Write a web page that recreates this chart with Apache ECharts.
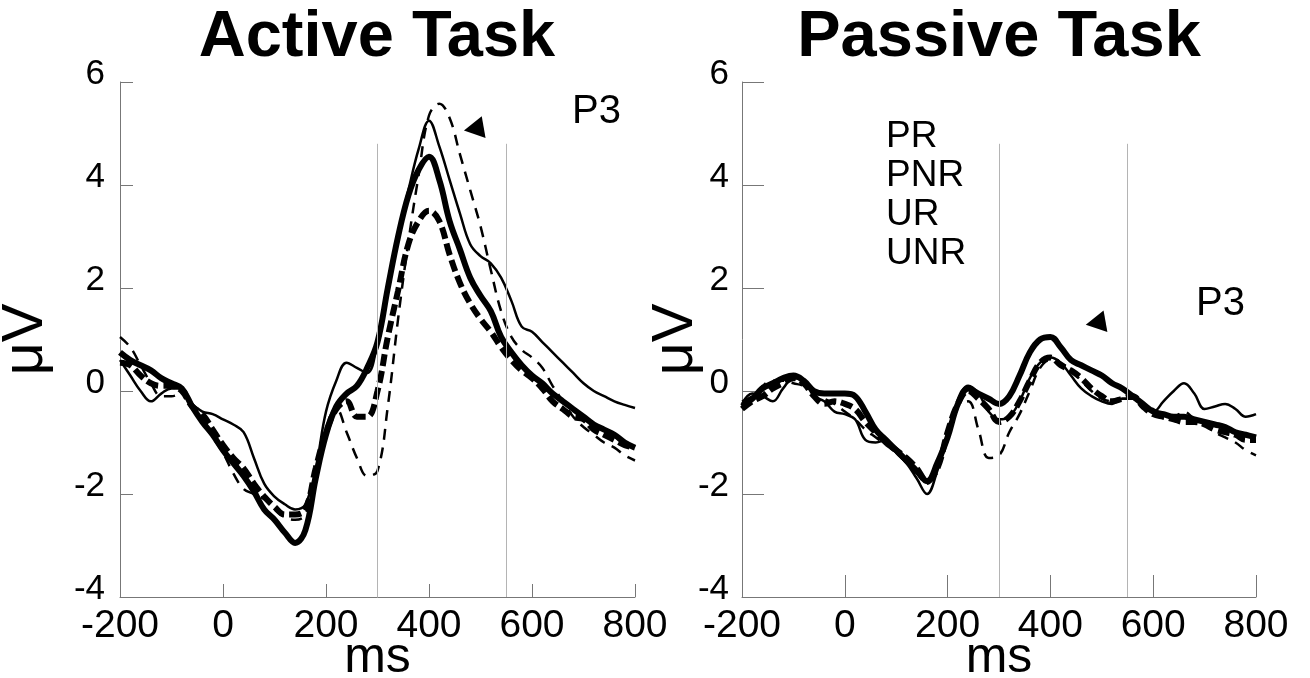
<!DOCTYPE html>
<html>
<head>
<meta charset="utf-8">
<script src="https://cdn.jsdelivr.net/npm/echarts@6/dist/echarts.min.js"></script>
<style>
    html, body { margin: 0; padding: 0; background: #fff; }
    #erp { width: 1310px; height: 678px; }
</style>
</head>
<body>
<div id="erp"></div>
<script>
// sample times (ms)
var times = [-200,-180,-160,-140,-120,-100,-80,-60,-40,-20,0,20,40,60,80,100,120,140,160,180,
    200,220,240,260,280,300,320,340,360,380,400,420,440,460,480,500,520,540,560,580,
    600,620,640,660,680,700,720,740,760,780,800];

// Active task (uV)
var activePR  = [0.75,0.6,0.5,0.4,0.25,0.15,0.05,-0.3,-0.6,-0.85,-1.15,-1.4,-1.65,-1.95,-2.3,-2.5,-2.75,-2.95,-2.7,-1.7,
    -0.85,-0.3,-0.05,0.1,0.45,0.95,2.0,3.0,3.8,4.3,4.55,4.1,3.3,2.75,2.2,1.85,1.55,1.05,0.75,0.5,
    0.3,0.15,-0.05,-0.2,-0.35,-0.5,-0.65,-0.75,-0.85,-1.0,-1.1];
var activePNR = [0.6,0.3,0.0,-0.2,-0.05,0.05,0.05,-0.25,-0.4,-0.45,-0.55,-0.65,-0.8,-1.3,-1.8,-2.05,-2.2,-2.3,-2.2,-1.5,
    -0.4,0.2,0.55,0.45,0.35,0.95,2.0,3.05,3.9,4.7,5.25,4.75,4.1,3.45,2.85,2.62,2.48,2.2,1.75,1.25,
    1.15,0.95,0.75,0.55,0.35,0.15,0.0,-0.1,-0.2,-0.27,-0.33];
var activeUR  = [0.55,0.5,0.3,0.15,0.1,0.1,0.0,-0.3,-0.45,-0.75,-1.05,-1.3,-1.5,-1.8,-2.05,-2.25,-2.4,-2.4,-2.3,-1.5,
    -0.8,-0.35,-0.2,-0.5,-0.5,0.0,1.05,1.95,2.85,3.3,3.5,3.3,2.65,2.1,1.7,1.4,1.15,0.85,0.6,0.4,
    0.25,0.05,-0.2,-0.35,-0.5,-0.55,-0.75,-0.85,-0.95,-1.05,-1.1];
var activeUNR = [1.05,0.85,0.5,0.15,-0.1,-0.1,-0.05,-0.35,-0.6,-0.9,-1.2,-1.6,-1.9,-2.0,-2.1,-2.3,-2.45,-2.5,-2.4,-1.6,
    -0.7,-0.35,-0.8,-1.3,-1.65,-1.55,-0.3,1.4,2.9,4.2,5.35,5.58,5.3,4.6,3.9,3.2,2.35,1.55,1.05,0.8,
    0.65,0.45,0.1,-0.2,-0.5,-0.7,-0.85,-1.0,-1.1,-1.25,-1.35];

// Passive task (uV)
var passivePR  = [-0.3,-0.15,0.05,0.15,0.25,0.3,0.2,0.0,-0.05,-0.05,-0.05,-0.1,-0.4,-0.75,-0.95,-1.15,-1.35,-1.55,-1.75,-1.4,
    -0.9,-0.25,0.05,-0.05,-0.15,-0.25,-0.1,0.3,0.75,1.0,1.05,0.85,0.6,0.5,0.4,0.3,0.15,0.05,-0.1,-0.25,
    -0.4,-0.45,-0.5,-0.5,-0.55,-0.6,-0.65,-0.7,-0.8,-0.85,-0.9];
var passivePNR = [-0.25,-0.05,-0.1,-0.2,0.05,0.25,0.2,-0.1,-0.2,-0.4,-0.45,-0.55,-0.95,-1.0,-0.95,-1.2,-1.4,-1.7,-2.0,-1.55,
    -0.9,-0.2,0.1,-0.05,-0.4,-0.55,-0.5,-0.2,0.25,0.55,0.65,0.55,0.3,0.05,-0.1,-0.2,-0.25,-0.15,-0.15,-0.3,
    -0.4,-0.2,0.0,0.15,-0.05,-0.35,-0.3,-0.25,-0.35,-0.5,-0.45];
var passiveUR  = [-0.35,-0.2,-0.1,0.05,0.15,0.25,0.15,-0.1,-0.25,-0.2,-0.25,-0.35,-0.6,-0.8,-1.0,-1.15,-1.3,-1.5,-1.75,-1.5,
    -0.8,-0.25,0.0,-0.15,-0.35,-0.6,-0.5,-0.2,0.2,0.55,0.65,0.5,0.4,0.25,0.05,-0.1,-0.2,-0.15,-0.1,-0.3,
    -0.45,-0.5,-0.55,-0.6,-0.6,-0.65,-0.75,-0.8,-0.85,-0.95,-0.95];
var passiveUNR = [-0.2,-0.1,0.1,0.2,0.2,0.15,0.1,0.0,-0.15,-0.25,-0.4,-0.55,-0.75,-0.9,-1.05,-1.2,-1.4,-1.6,-1.8,-1.45,
    -0.75,-0.3,-0.2,-0.75,-1.3,-1.25,-0.8,-0.45,0.0,0.45,0.6,0.55,0.4,0.2,0.0,-0.15,-0.2,-0.15,-0.15,-0.25,
    -0.35,-0.45,-0.5,-0.4,-0.55,-0.65,-0.8,-0.9,-1.0,-1.15,-1.25];

var conditions = ['PR', 'PNR', 'UR', 'UNR'];
var xTicks = [-200, 800, 200];   // min, max, step
var yTicks = [-4, 6, 2];
var windowLines = [300, 550];    // P3 window (ms)
var windowTop = 4.8;
var activeArrow = [[487, 5.09]];
var passiveArrow = [[488, 1.32]];

var fontName = "'Liberation Sans', Arial, Helvetica, sans-serif";
var styles = [
    {width: 6, type: 'solid'},
    {width: 2.5, type: 'solid'},
    {width: 6, type: [12, 5]},
    {width: 2.5, type: [11, 8]}
];

function pairs(vals) {
    return times.map(function (t, i) { return [t, vals[i]]; });
}

function makeX(idx, tickLen) {
    return {
        type: 'value', gridIndex: idx,
        min: xTicks[0], max: xTicks[1], interval: xTicks[2],
        name: 'ms', nameLocation: 'middle', nameGap: 36, nameMoveOverlap: false,
        nameTextStyle: {fontSize: 50, color: '#000', fontFamily: fontName},
        axisLine: {show: true, onZero: false, lineStyle: {color: '#777', width: 1}},
        axisTick: {show: true, inside: true, length: tickLen, lineStyle: {color: '#777'}},
        axisLabel: {fontSize: 39, color: '#000', margin: 10, fontFamily: fontName},
        splitLine: {show: false}
    };
}

function makeY(idx, tickLen, nameGap, labelMargin) {
    return {
        type: 'value', gridIndex: idx,
        min: yTicks[0], max: yTicks[1], interval: yTicks[2],
        name: 'μV', nameLocation: 'middle', nameGap: nameGap, nameMoveOverlap: false,
        nameTextStyle: {fontSize: 58, color: '#000', fontFamily: fontName},
        axisLine: {show: true, onZero: false, lineStyle: {color: '#777', width: 1}},
        axisTick: {show: true, inside: true, length: tickLen, lineStyle: {color: '#777'}},
        axisLabel: {fontSize: 35, color: '#000', margin: labelMargin, verticalAlign: 'bottom', lineHeight: 16, fontFamily: fontName},
        splitLine: {show: false}
    };
}

function panelSeries(idx, sets, arrow) {
    var out = sets.map(function (vals, k) {
        var s = {
            name: conditions[k],
            type: 'line',
            xAxisIndex: idx, yAxisIndex: idx,
            data: pairs(vals),
            smooth: 0.4,
            showSymbol: false,
            lineStyle: {color: '#000', width: styles[k].width, type: styles[k].type},
            itemStyle: {color: '#000'},
            z: 3
        };
        if (k == 0) {
            s.markLine = {
                silent: true,
                symbol: 'none',
                label: {show: false},
                lineStyle: {color: '#b4b4b4', width: 1, type: 'solid'},
                data: windowLines.map(function (t) {
                    return [{coord: [t, yTicks[0]]}, {coord: [t, windowTop]}];
                })
            };
        }
        return s;
    });
    out.push({
        type: 'scatter',
        xAxisIndex: idx, yAxisIndex: idx,
        data: arrow,
        symbol: 'triangle',
        symbolSize: [22, 20],
        symbolRotate: 100,
        itemStyle: {color: '#000', opacity: 1},
        silent: true,
        z: 5
    });
    return out;
}

var myChart = echarts.init(document.getElementById('erp'));
var option = {
    animation: false,
    textStyle: {fontFamily: fontName},
    title: [
        {text: 'Active Task', left: 377, top: 6, textAlign: 'center', padding: 0,
            textStyle: {fontSize: 65, fontWeight: 'bold', color: '#000', fontFamily: fontName}},
        {text: 'Passive Task', left: 999, top: 6, textAlign: 'center', padding: 0,
            textStyle: {fontSize: 65, fontWeight: 'bold', color: '#000', fontFamily: fontName}},
        {text: 'P3', left: 572, top: 92, padding: 0,
            textStyle: {fontSize: 40, fontWeight: 'normal', color: '#000', fontFamily: fontName}},
        {text: 'P3', left: 1196, top: 284, padding: 0,
            textStyle: {fontSize: 40, fontWeight: 'normal', color: '#000', fontFamily: fontName}}
    ],
    legend: {
        data: conditions,
        orient: 'vertical',
        left: 881, top: 118,
        icon: 'none',
        itemWidth: 0, itemHeight: 38, itemGap: 1,
        padding: 0,
        selectedMode: false,
        textStyle: {fontSize: 37, lineHeight: 38, color: '#000', fontFamily: fontName}
    },
    grid: [
        {left: 120, top: 82, width: 515, height: 515, outerBoundsMode: 'none'},
        {left: 742, top: 82, width: 514, height: 515, outerBoundsMode: 'none'}
    ],
    xAxis: [makeX(0, 13), makeX(1, 22)],
    yAxis: [makeY(0, 13, 65, 15), makeY(1, 22, 37, 13)],
    series: panelSeries(0, [activePR, activePNR, activeUR, activeUNR], activeArrow)
        .concat(panelSeries(1, [passivePR, passivePNR, passiveUR, passiveUNR], passiveArrow))
};
myChart.setOption(option);
</script>
</body>
</html>
